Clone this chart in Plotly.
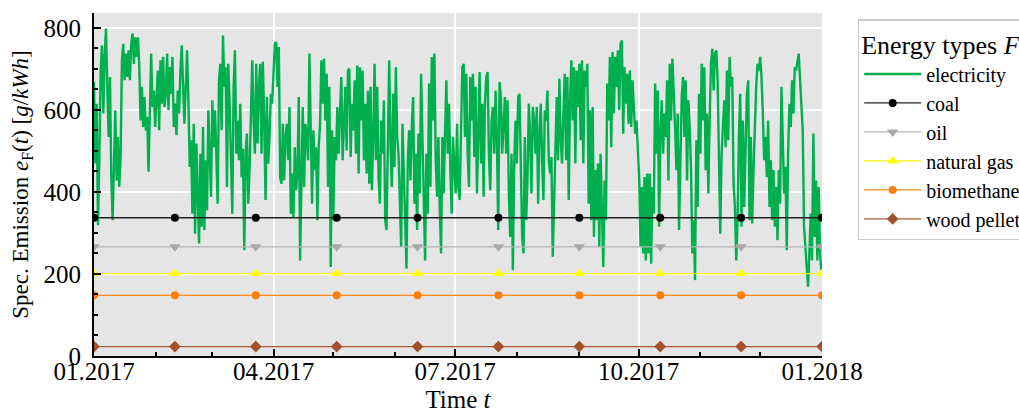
import pandas as pd
import plotly.graph_objects as go

# ---------------- data ----------------
# electricity specific emission (16 h spacing from 01.01.2017)
elec_part1 = [668,469,615,319,477,696,757,591,729,798,
              656,534,680,436,331,509,599,428,534,412,
              485,721,761,672,737,680,745,672,761,786,
              712,777,729,777,712,574,656,558,631,550,
              583,449,631,737,607,647,558,639,696,550,
              721,615,729,607,639,737,599,704,639,729,
              558,615,538,647,591,696,757,656,566,656,
              745,623,461,526,347,566,298,518,363,274,
              493,315,558,307,477,355,599,493,388,623,
              509]
elec_part2 = [599,469,371,672,712,550,781,656,704,412,
              712,615,461,347,656,745,493,574,477,615,
              436,505,258,493,542,371,453,607,721,574,
              493,712,518,656,712,493,717,574,380,631,
              469,534,639,615,696,761,765,656,753,436,
              420,566,428,534,566,477,607,347,445,339,
              509,404,445,631,233,477,607,412,566,534,
              477,737,574,371,550,453,509,331,509,566,
              721,615,725,574,688,412,656,217,550,331,
              534,477]
elec_part3 = [607,493,591,680,477,574,656,501,696,700,
              485,615,550,672,493,708,445,704,574,696,
              477,615,445,647,420,656,404,534,712,477,
              656,436,371,574,493,623,331,307,574,721,
              509,412,639,461,704,534,493,396,266,566,
              412,331,213,477,550,428,558,631,371,493,
              307,542,396,688,534,388,233,493,347,664,
              412,729,574,737,477,388,534,363,250,534,
              396,542,672,493,615,453,347,534,477,396,
              566,412]
elec_part4 = [380,574,704,712,534,688,493,412,680,574,
              688,485,656,396,550,692,469,615,388,615,
              680,692,493,404,574,607,493,647,534,307,
              668,631,493,558,631,493,623,396,290,493,
              209,461,574,469,631,639,428,290,250,534,
              331,428,615,534,396,607,574,493,607,371,
              534,615,477,380,599,574,647,477,445,485,
              242,396,493,631,477,676,526,469,591,688,
              477,680,380,623,721,574,704,469,696,607,
              712,526]
elec_part5 = [721,469,696,656,712,371,599,331,607,290,
              453,331,469,266,493,363,217,428,331,664,
              574,729,509,741,591,729,656,745,599,761,
              769,542,704,615,688,566,696,558,672,607,
              542,574,501,436,266,412,250,436,233,445,
              250,445,225,412,347,664,493,647,315,550,
              623,493,591,534,672,428,712,574,725,656,
              558,453,591,307,509,631,680,534,672,428,
              623,558,453,250,331,185,526,363,639,493,
              712,574]
elec_part6 = [704,453,591,396,574,712,749,647,737,745,
              672,453,298,493,574,623,509,696,526,729,
              656,680,420,363,233,331,534,639,315,574,
              363,509,639,672,331,534,323,453,574,656,
              712,696,729,680,591,477,534,436,574,363,
              477,331,453,315,412,282,453,371,656,493,
              396,461,258,493,615,558,672,591,704,696,
              721,737,672,591,550,315,266,201,169,250,
              347,233,542,290,428,233,412,250,209]
electricity = elec_part1 + elec_part2 + elec_part3 + elec_part4 + elec_part5 + elec_part6
elec_start = "2017-01-01 00:00"
elec_step = "16h"

# constant specific emissions of the other energy types
fuel_names = ["coal", "oil", "natural gas", "biomethane", "wood pellets"]
fuel_values = [337, 266, 201, 148, 23]
marker_dates = ["2017-01-01 00:00", "2017-02-10 13:20", "2017-03-23 02:40",
                "2017-05-02 16:00", "2017-06-12 05:20", "2017-07-22 18:40",
                "2017-09-01 08:00", "2017-10-11 21:20", "2017-11-21 10:40",
                "2018-01-01 00:00"]

# ---------------- styles ----------------
fuel_colors = ["#000000", "#a9a9a9", "#ffff00", "#ff7f0e", "#a0522d"]
fuel_line_colors = ["#222222", "#b5b5b5", "#f5f500", "#ff8a1c", "#a85a36"]
fuel_symbols = ["circle", "triangle-down", "triangle-up", "circle", "diamond"]
fuel_sizes = [8, 10, 10, 8, 9]
FONT = "Liberation Serif"

elec_time = pd.date_range(elec_start, periods=len(electricity), freq=elec_step)

fig = go.Figure()
fig.add_trace(go.Scatter(
    x=elec_time, y=electricity, mode="lines", name="electricity",
    line=dict(color="#00b04f", width=2.4)))

for name, val, col, lcol, sym, sz in zip(fuel_names, fuel_values, fuel_colors,
                                          fuel_line_colors, fuel_symbols, fuel_sizes):
    fig.add_trace(go.Scatter(
        x=pd.to_datetime(marker_dates), y=[val] * len(marker_dates),
        mode="lines+markers", name=name,
        line=dict(color=lcol, width=1.3),
        marker=dict(color=col, symbol=sym, size=sz, line=dict(width=0))))

fig.update_layout(
    width=1019, height=414,
    margin=dict(l=94, r=197, t=13, b=58, autoexpand=False),
    paper_bgcolor="white", plot_bgcolor="#e5e5e5",
    font=dict(family=FONT, size=22, color="black"),
    showlegend=True,
    legend=dict(
        x=1.049, y=0.982, xanchor="left", yanchor="top",
        bgcolor="white", bordercolor="#cccccc", borderwidth=1.5,
        font=dict(family=FONT, size=20, color="black"),
        title=dict(text="Energy types <i>F</i>", font=dict(family=FONT, size=26)),
        itemwidth=57, tracegroupgap=0),
)

fig.update_xaxes(
    type="date", range=["2017-01-01", "2018-01-01"],
    tickformat="%m.%Y", dtick="M3", tick0="2017-01-01",
    ticks="inside", ticklen=7, tickwidth=1.5, tickcolor="black",
    showline=True, linecolor="black", linewidth=2, mirror=False,
    showgrid=True, gridcolor="white", gridwidth=1.6,
    zeroline=False,
    tickfont=dict(family=FONT, size=25),
    ticklabelstandoff=-8,
    minor=dict(dtick="M1", ticks="inside", ticklen=4, tickcolor="black", showgrid=False),
    title=dict(text="Time <i>t</i>", font=dict(family=FONT, size=25), standoff=6),
    automargin=False)

fig.update_yaxes(
    range=[0, 836], dtick=200, tick0=0,
    ticks="inside", ticklen=7, tickwidth=1.5, tickcolor="black",
    showline=True, linecolor="black", linewidth=2, mirror=False,
    showgrid=True, gridcolor="white", gridwidth=1.6,
    zeroline=False,
    tickfont=dict(family=FONT, size=25),
    ticklabelstandoff=6,
    minor=dict(dtick=50, ticks="inside", ticklen=4, tickcolor="black", showgrid=False),
    title=dict(text="Spec. Emission <i>e</i><sub>F</sub>(<i>t</i>) [<i>g</i>/<i>kWh</i>]",
               font=dict(family=FONT, size=23), standoff=8),
    automargin=False)

fig.write_html("out.html", config={"displayModeBar": False},
               post_script="document.body.style.margin='0px';")
